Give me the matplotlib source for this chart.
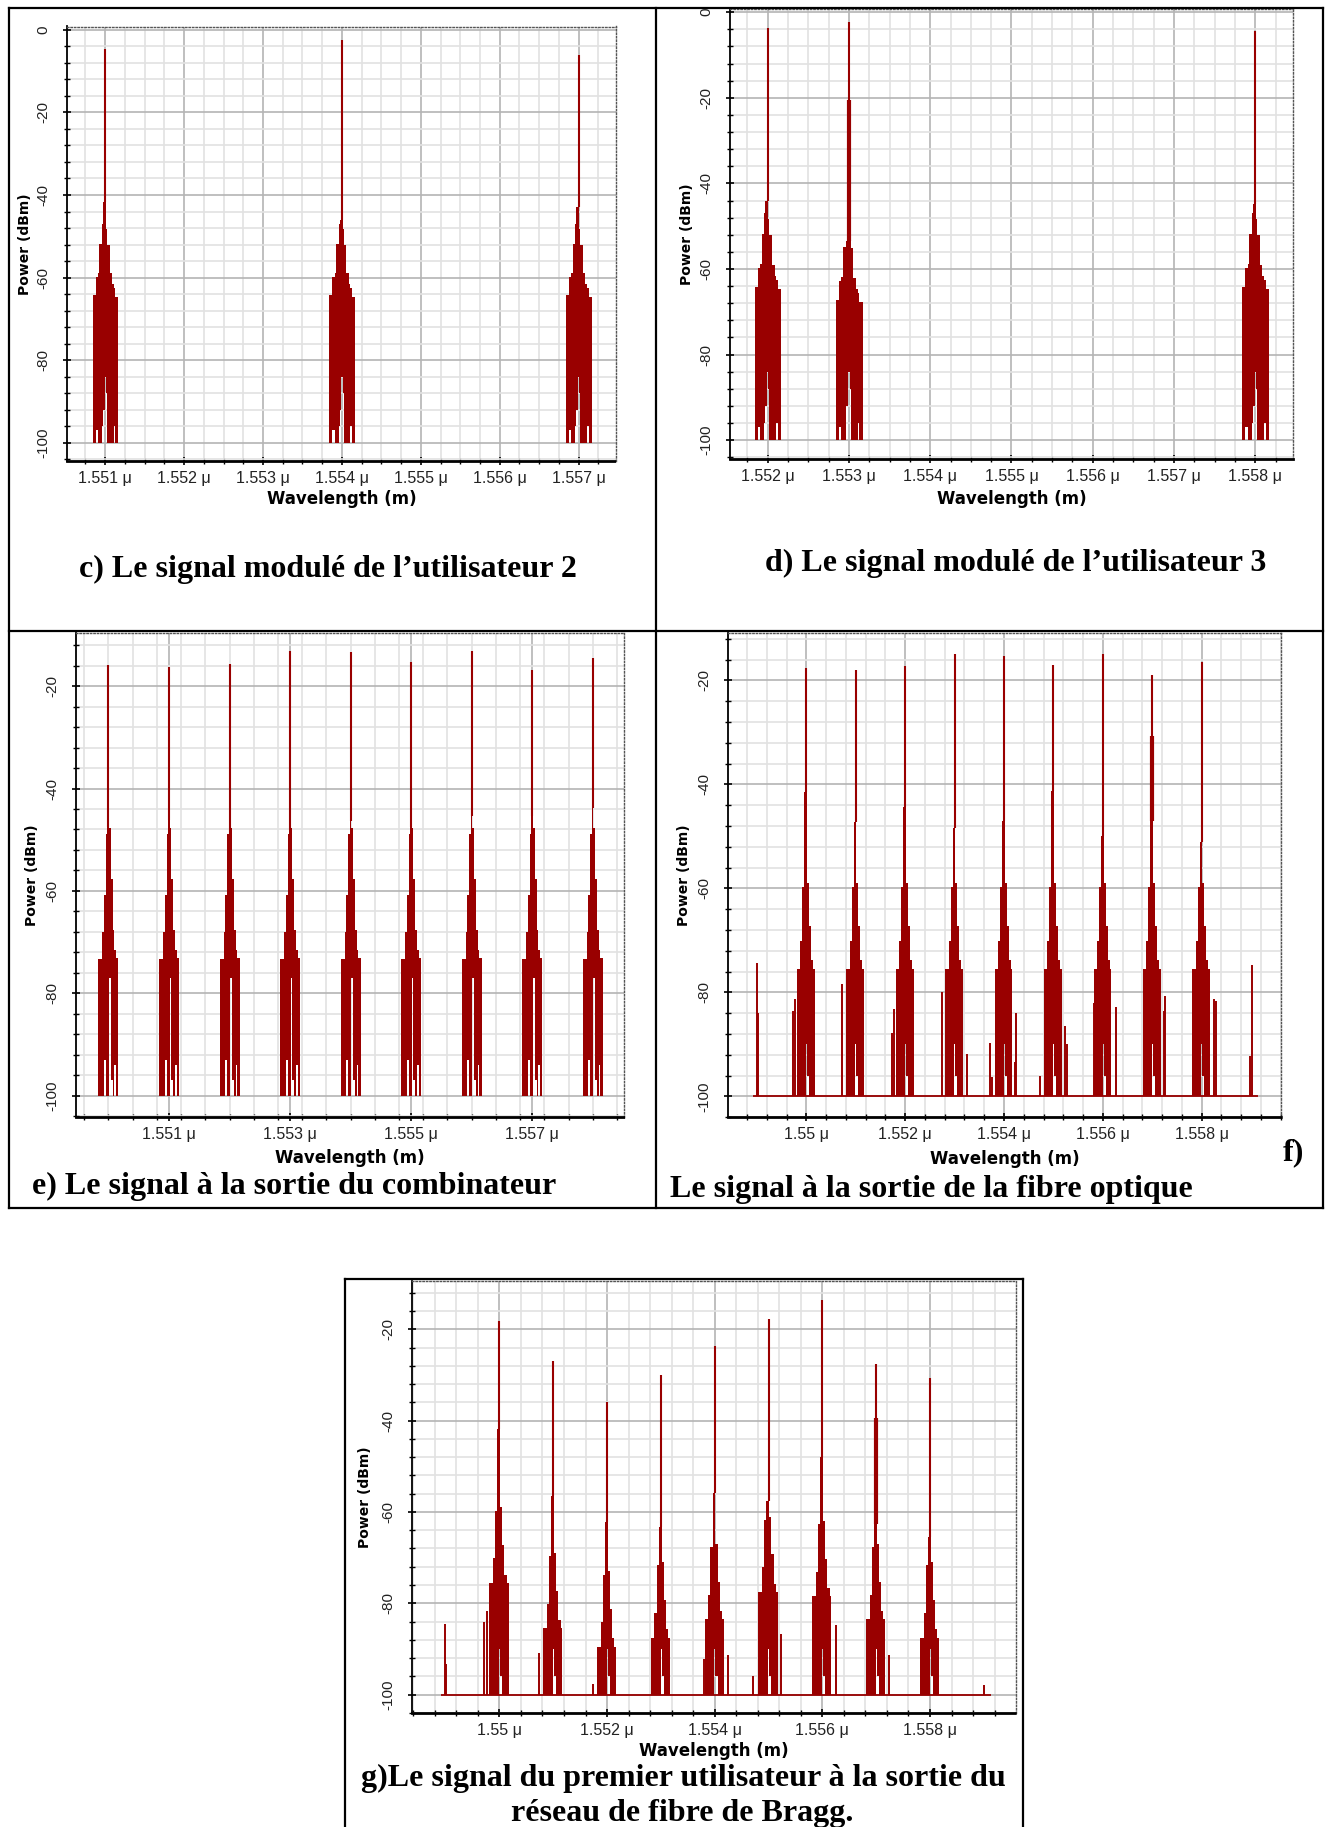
import numpy as np
import matplotlib
matplotlib.use('Agg')
import matplotlib.pyplot as plt
from matplotlib.lines import Line2D
from matplotlib.ticker import FixedLocator, MultipleLocator, FuncFormatter

plt.rcParams['font.family'] = 'Liberation Sans'
plt.rcParams['axes.unicode_minus'] = False

W, H = 1330, 1827
RED = '#990000'

# ---- data: wavelength in um, power in dBm ----
# c) user 2
c_centers = [1.551, 1.554, 1.557]
c_peaks = [-4.6, -2.4, -6.1]
c_shoulders = [-41.7, -46.1, -43.0]
c_inner = [-41.7, -46.1, -43.0]
c_shift = [0, 0, 0]

# d) user 3
d_centers = [1.552, 1.553, 1.558]
d_peaks = [-3.8, -2.4, -4.3]
d_shoulders = [-44.2, -53.4, -44.9]
d_inner = [-44.2, -20.5, -44.9]
d_shift = [0, -3, 0]

# e) combiner output
e_centers = [1.550, 1.551, 1.552, 1.553, 1.554, 1.555, 1.556, 1.557, 1.558]
e_peaks = [-15.9, -16.3, -15.6, -13.2, -13.4, -15.2, -13.2, -16.8, -14.4]
e_shoulders = [-47.6, -46.1, -49.2, -48.1, -46.3, -47.6, -45.4, -45.4, -43.8]
e_shift = [0, 0, 0, 0, 0, 0, 0, 0, 0]

# f) fibre output
f_centers = [1.550, 1.551, 1.552, 1.553, 1.554, 1.555, 1.556, 1.557, 1.558]
f_peaks = [-17.7, -18.0, -17.3, -15.0, -15.3, -17.1, -15.0, -18.9, -16.5]
f_shoulders = [-41.5, -47.3, -44.3, -48.4, -47.0, -41.2, -49.9, -47.0, -51.0]
f_inner = [-41.5, -47.3, -44.3, -48.4, -47.0, -41.2, -49.9, -30.7, -51.0]
f_shift = [0, 0, 0, 0, 0, 0, 0, 0, 0]
f_side_wl = [1.549007, 1.549033, 1.549721, 1.549765, 1.550732, 1.551725, 1.551778,
             1.552745, 1.553242, 1.553712, 1.553764, 1.554217, 1.554252, 1.554732,
             1.555237, 1.555281, 1.555821, 1.556257, 1.557232, 1.557267, 1.558243,
             1.558287, 1.558984, 1.559010]
f_side_lvl = [-74.3, -83.9, -83.5, -81.2, -78.3, -87.8, -83.1, -79.9, -91.8, -89.7,
              -96.2, -93.3, -83.9, -96.0, -86.4, -90.0, -82.1, -82.8, -83.5, -80.6,
              -81.3, -81.7, -92.2, -74.8]
f_floor = [1.54893, 1.55914]

# g) user 1 after Bragg grating
g_centers = [1.550, 1.551, 1.552, 1.553, 1.554, 1.555, 1.556, 1.557, 1.558]
g_peaks = [-18.1, -27.0, -36.0, -30.1, -23.6, -17.7, -13.6, -27.6, -30.6]
g_shoulders = [-41.8, -56.6, -62.1, -63.2, -55.8, -57.6, -48.0, -62.7, -65.5]
g_inner = [-41.8, -56.6, -62.1, -63.2, -55.8, -57.6, -48.0, -39.5, -65.5]
g_shift = [0, -10, -14, -12, -8, -2, -3, -8, -12]
g_side_wl = [1.548988, 1.549012, 1.549722, 1.549763, 1.550727, 1.551102, 1.551151,
             1.551739, 1.553804, 1.553853, 1.554245, 1.554718, 1.555233, 1.556253,
             1.557233, 1.557837, 1.557878, 1.559004]
g_side_lvl = [-84.6, -93.4, -84.0, -81.6, -91.0, -92.2, -93.4, -97.7, -92.2, -90.1,
              -91.3, -96.0, -86.8, -84.8, -91.4, -95.7, -96.9, -98.0]
g_floor = [1.54892, 1.55913]

# cluster envelopes (offsets in nm, nan = shoulder level)
dense_edges = [-0.16, -0.12, -0.093, -0.072, -0.042, -0.03, -0.008, 0.008, 0.021,
               0.055, 0.084, 0.106, 0.127, 0.168]
dense_upper = [-64.2, -59.8, -58.8, -51.9, -46.9, np.nan, np.nan, -48.3, -52.0,
               -59.0, -61.6, -62.6, -64.6]
dense_lower = [-100, -97, -100, -100, -96, -92, -84, -88, -100, -100, -100, -96, -100]

comb_edges = [-0.165, -0.099, -0.072, -0.039, -0.017, 0.011, 0.039, 0.072, 0.099,
              0.127, 0.165]
comb_upper = [-73.4, -68.0, -60.8, -48.9, np.nan, -47.8, -57.6, -67.7, -71.6, -73.2]
comb_lower = [-100, -100, -93, -100, -100, -77, -97, -100, -94, -100]

fib_edges = [-0.189, -0.121, -0.081, -0.040, -0.007, 0.013, 0.054, 0.094, 0.135, 0.169]
fib_upper = [-75.5, -70.1, -59.7, np.nan, np.nan, -59.0, -67.3, -73.7, -75.5]
fib_lower = [-100, -100, -100, -100, -90, -96, -100, -100, -100]


def fx(x):
    return x / W


def fy(y):
    return 1 - y / H


def make_axes(l, t, r, b):
    return fig.add_axes([fx(l), fy(b), (r - l) / W, (b - t) / H])


def draw_cluster(ax, c, peak, shoulder, inner, shift, edges, upper, lower):
    e = np.array(edges) * 1e-3
    up = np.array(upper, float) + shift
    up[np.isnan(up)] = shoulder
    up = np.maximum(up, -99.0)
    lo = np.minimum(np.array(lower, float), up - 1)
    ax.bar(c + e[:-1], up - lo, width=np.diff(e), bottom=lo, align='edge',
           color=RED, linewidth=0)
    if inner > shoulder:
        ax.vlines(c, shoulder, inner, color=RED, lw=3)
    ax.vlines(c, shoulder, peak, color=RED, lw=1.5)


def setup(ax, xlim, ylim, xmajor, xminor, ymajor):
    ax.set_xlim(xlim)
    ax.set_ylim(ylim)
    ax.xaxis.set_major_locator(FixedLocator(xmajor))
    ax.xaxis.set_minor_locator(MultipleLocator(xminor))
    ax.yaxis.set_major_locator(FixedLocator(ymajor))
    ax.yaxis.set_minor_locator(MultipleLocator(4))
    ax.xaxis.set_major_formatter(FuncFormatter(lambda v, p: f"{round(v, 4):g} \u03bc"))
    ax.yaxis.set_major_formatter(FuncFormatter(lambda v, p: f"{int(round(v))}"))
    ax.grid(which='major', color='#b4b4b4', lw=1.2)
    ax.grid(which='minor', color='#e2e2e2', lw=1.2)
    ax.set_axisbelow(True)
    ax.tick_params(axis='both', which='both', direction='inout', color='black')
    ax.tick_params(axis='both', which='major', length=6, width=1.2)
    ax.tick_params(axis='both', which='minor', length=4, width=1.0)
    ax.tick_params(axis='x', labelsize=11.5, pad=4, labelcolor='#222222')
    ax.tick_params(axis='y', labelsize=11, pad=9, labelrotation=90, labelcolor='#222222')
    for lab in ax.get_yticklabels():
        lab.set_va('center')
    ax.spines['left'].set_linewidth(1.3)
    ax.spines['bottom'].set_linewidth(2.0)
    ax.spines['bottom'].set_linestyle((0, (1, 1)))
    for s in ['top', 'right']:
        ax.spines[s].set_linestyle((0, (1, 1.5)))
        ax.spines[s].set_color('#555555')
        ax.spines[s].set_linewidth(1.0)


def labels(ax, l, t, r, b, ylab_x, xlab_y):
    fig.text(fx(ylab_x), fy((t + b) / 2), 'Power (dBm)', rotation=90, ha='center',
             va='center', fontsize=10, fontweight='bold', family='DejaVu Sans')
    fig.text(fx((l + r) / 2), fy(xlab_y), 'Wavelength (m)', ha='center', va='center',
             fontsize=12, fontweight='bold', family='DejaVu Sans')


fig = plt.figure(figsize=(W / 100, H / 100), dpi=100)

# ---- c ----
box = (67.3, 26.5, 615.7, 461)
ax = make_axes(*box)
for i in range(len(c_centers)):
    draw_cluster(ax, c_centers[i], c_peaks[i], c_shoulders[i], c_inner[i], c_shift[i],
                 dense_edges, dense_upper, dense_lower)
setup(ax, (1.55052, 1.55747), (-104.4, 0.8), np.arange(1.551, 1.5575, 0.001), 0.00025,
      [0, -20, -40, -60, -80, -100])
labels(ax, *box, 25, 499)

# ---- d ----
box = (730.3, 9, 1293.4, 459)
ax = make_axes(*box)
for i in range(len(d_centers)):
    draw_cluster(ax, d_centers[i], d_peaks[i], d_shoulders[i], d_inner[i], d_shift[i],
                 dense_edges, dense_upper, dense_lower)
setup(ax, (1.55154, 1.55847), (-104.4, 0.75), np.arange(1.552, 1.5585, 0.001), 0.00025,
      [0, -20, -40, -60, -80, -100])
labels(ax, *box, 687, 499)

# ---- e ----
box = (75.8, 632.5, 624.2, 1117)
ax = make_axes(*box)
for i in range(len(e_centers)):
    draw_cluster(ax, e_centers[i], e_peaks[i], e_shoulders[i], e_shoulders[i], e_shift[i],
                 comb_edges, comb_upper, comb_lower)
setup(ax, (1.54946, 1.55852), (-104.2, -9.5), [1.551, 1.553, 1.555, 1.557], 0.0004,
      [-20, -40, -60, -80, -100])
labels(ax, *box, 32, 1158)

# ---- f ----
box = (728.2, 632.5, 1281.3, 1117.3)
ax = make_axes(*box)
ax.hlines(-100, f_floor[0], f_floor[1], color=RED, lw=1.3)
ax.vlines(f_side_wl, -100, f_side_lvl, color=RED, lw=1.4)
for i in range(len(f_centers)):
    draw_cluster(ax, f_centers[i], f_peaks[i], f_shoulders[i], f_inner[i], f_shift[i],
                 fib_edges, fib_upper, fib_lower)
setup(ax, (1.54842, 1.55961), (-104, -10.8), [1.550, 1.552, 1.554, 1.556, 1.558], 0.0004,
      [-20, -40, -60, -80, -100])
labels(ax, *box, 684, 1159.5)

# ---- g ----
box = (411.7, 1280.7, 1015.6, 1713.3)
ax = make_axes(*box)
ax.hlines(-100, g_floor[0], g_floor[1], color=RED, lw=1.3)
ax.vlines(g_side_wl, -100, g_side_lvl, color=RED, lw=1.4)
for i in range(len(g_centers)):
    draw_cluster(ax, g_centers[i], g_peaks[i], g_shoulders[i], g_inner[i], g_shift[i],
                 fib_edges, fib_upper, fib_lower)
setup(ax, (1.54837, 1.55959), (-104.1, -9.35), [1.550, 1.552, 1.554, 1.556, 1.558], 0.0004,
      [-20, -40, -60, -80, -100])
labels(ax, *box, 365, 1750.5)

# ---- table borders ----
def line(x0, y0, x1, y1):
    fig.add_artist(Line2D([fx(x0), fx(x1)], [fy(y0), fy(y1)], color='black', lw=1.6))

line(8.5, 7.5, 1322.5, 7.5)
line(8.5, 631, 1322.5, 631)
line(8.5, 1207.5, 1322.5, 1207.5)
line(8.5, 7.5, 8.5, 1207.5)
line(1322.5, 7.5, 1322.5, 1207.5)
line(656, 7.5, 656, 1207.5)
line(345, 1279, 1022.5, 1279)
line(345, 1279, 345, 1827)
line(1022.5, 1279, 1022.5, 1827)

# ---- captions ----
cap = dict(family='Liberation Serif', fontweight='bold', fontsize=23, va='center')
fig.text(fx(327.5), fy(569), 'c) Le signal modulé de l\u2019utilisateur 2', ha='center', **cap)
fig.text(fx(1016), fy(563), 'd) Le signal modulé de l\u2019utilisateur 3', ha='center', **cap)
fig.text(fx(31.6), fy(1186), 'e) Le signal à la sortie du combinateur', ha='left', **cap)
fig.text(fx(1293), fy(1153), 'f)', ha='center', **cap)
fig.text(fx(670), fy(1189.5), 'Le signal à la sortie de la fibre optique', ha='left', **cap)
fig.text(fx(683), fy(1778), 'g)Le signal du premier utilisateur à la sortie du', ha='center', **cap)
fig.text(fx(682), fy(1813), 'réseau de fibre de Bragg.', ha='center', **cap)

fig.savefig('out.png', dpi=100)
